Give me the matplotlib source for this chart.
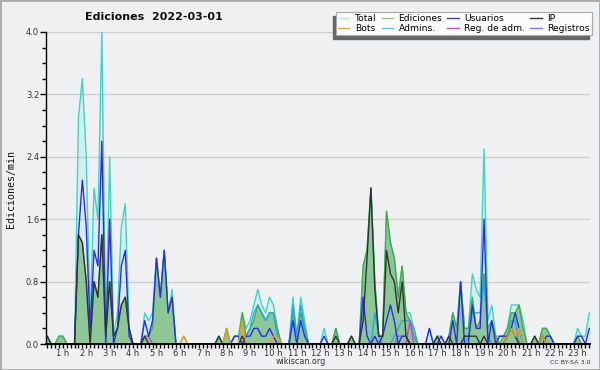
import matplotlib
matplotlib.use('Agg')
import matplotlib.pyplot as plt
from matplotlib.lines import Line2D
from matplotlib.patches import Rectangle
from matplotlib.ticker import MultipleLocator, FixedLocator
import numpy as np

# 10 minute bins, edits per minute
hours = np.arange(144) / 6.0

total = [0, 0, .1, 0, 0, .1, .1, 0, 0, 0, 2.9, 3.4, 2.4, .3, 2.0, 1.6, 4.0, .1, 2.4, .1, .4, 1.5, 1.8, .2,
         0, 0, 0, .4, .3, .4, 1.1, .6, 1.2, .4, .7, 0, 0, .1, 0, 0, 0, 0, 0, 0, 0, 0, .1, 0,
         .2, 0, .1, .1, .4, .2, .3, .5, .7, .5, .4, .6, .5, .2, 0, 0, 0, .6, .1, .6, .3, 0, 0, 0,
         0, .2, 0, 0, .2, 0, 0, 0, .1, 0, 0, 1.0, 1.2, 2.0, .8, .1, .1, 1.7, 1.3, 1.1, .6, 1.0, .4, .4,
         .2, 0, 0, 0, .2, 0, .1, .1, 0, .1, .4, .2, .8, .2, .2, .9, .7, .6, 2.5, .3, .5, .1, .1, .1,
         .2, .5, .5, .5, .3, 0, 0, .1, 0, .2, .2, .1, 0, 0, 0, 0, 0, 0, .2, .1, .1, .4, .4, 0]
edits = [0, 0, .1, 0, 0, .1, .1, 0, 0, 0, 1.4, 1.3, .8, 0, .8, .6, 1.4, .1, .8, .1, .2, .5, .6, .2,
         0, 0, 0, .1, .1, .2, 1.1, .6, 1.2, .4, .6, 0, 0, 0, 0, 0, 0, 0, 0, 0, 0, 0, .1, 0,
         .2, 0, 0, 0, .4, .1, .2, .3, .5, .4, .3, .4, .4, .2, 0, 0, 0, .4, .1, .4, .2, 0, 0, 0,
         0, 0, 0, 0, .2, 0, 0, 0, .1, 0, 0, 1.0, 1.2, 2.0, .8, .1, .1, 1.7, 1.3, 1.1, .6, 1.0, .4, .3,
         .1, 0, 0, 0, 0, 0, .1, 0, 0, .1, .4, .2, .8, .2, .2, .6, .2, .3, .9, .2, .3, .1, 0, .1,
         .2, .4, .4, .5, .2, 0, 0, .1, 0, .2, .2, .1, 0, 0, 0, 0, 0, 0, .1, 0, 0, 0, 0, 0]
users = [0, 0, 0, 0, 0, 0, 0, 0, 0, 0, 1.4, 2.1, 1.5, .2, 1.2, 1.0, 2.6, 0, 1.6, 0, .2, 1.0, 1.2, .1,
         0, 0, 0, .3, .1, .3, 1.1, .6, 1.2, .4, .6, 0, 0, 0, 0, 0, 0, 0, 0, 0, 0, 0, 0, 0,
         0, 0, .1, .1, 0, .1, .1, .2, .2, .1, .1, .2, .1, 0, 0, 0, 0, .3, 0, .3, .1, 0, 0, 0,
         0, .1, 0, 0, 0, 0, 0, 0, 0, 0, 0, .6, .1, 0, .1, 0, .1, .3, .5, .3, 0, .1, .1, 0,
         0, 0, 0, 0, .2, 0, 0, .1, 0, 0, .3, 0, .8, 0, 0, .5, .2, .2, 1.6, 0, .3, 0, .1, .1,
         .1, .2, .4, .2, 0, 0, 0, 0, 0, 0, .1, .1, 0, 0, 0, 0, 0, 0, .1, .1, 0, .2, .2, 0]
ip = [0, 0, .1, 0, 0, 0, 0, 0, 0, 0, 1.4, 1.3, .8, 0, .8, .6, 1.4, .1, .8, .1, .2, .5, .6, .2,
      0, 0, 0, .1, 0, 0, 0, 0, 0, 0, 0, 0, 0, 0, 0, 0, 0, 0, 0, 0, 0, 0, .1, 0,
      0, 0, 0, 0, .1, 0, 0, 0, 0, 0, 0, 0, 0, 0, 0, 0, 0, 0, 0, 0, 0, 0, 0, 0,
      0, 0, 0, 0, .1, 0, 0, 0, .1, 0, 0, .3, 1.1, 2.0, .7, .1, .1, 1.2, .9, .8, .4, .8, .1, 0,
      0, 0, 0, 0, 0, 0, .1, 0, 0, .1, 0, 0, 0, .1, .1, .1, .1, 0, .1, 0, 0, 0, 0, 0,
      .1, .2, .1, 0, 0, 0, 0, .1, 0, .1, 0, 0, 0, 0, 0, 0, 0, 0, 0, 0, 0, 0, 0, 0]
bots = [0] * 37 + [.1] + [0] * 10 + [.2, 0, 0, 0, .3] + [0] * 7 + [.1, .1] + [0] * 58 \
       + [.1, .2, .1, .2] + [0] * 5 + [.1] + [0] * 14
admins = [0] * 50 + [.1, .1, 0, .1, .2, .4, .5, .4, .3, .4, .4, .1, 0, 0, 0, .5, .1, .5, .2] \
         + [0] * 17 + [.4, .1, 0, 0, 0, .1, .2, .3, .3, .3, .2] + [0] * 13 \
         + [.1, .4, .4, .4, .8, .1] + [0] * 4 + [.1, .3, .3] + [0] * 21
regadm = [0] * 27 + [.1, .1] + [0] * 66 + [.3] + [0] * 48
registros = [0] * 92 + [.1, .1, .1] + [0] * 49

hour_ticks = list(range(1, 24))
hour_labels = ['%d h' % h for h in hour_ticks]

bg = '#eef0f2'
fig = plt.figure(figsize=(6, 3.7), dpi=100, facecolor=bg)
ax = fig.add_axes([46 / 600, 1 - 344 / 370, 544 / 600, 312 / 370])
ax.set_facecolor(bg)

ax.fill_between(hours, total, color='#3dd6c8', alpha=0.13, lw=0)
ax.fill_between(hours, edits, color='#50aa50', alpha=0.55, lw=0)
ax.plot(hours, total, color='#3dd6c8', lw=1.0)
ax.plot(hours, edits, color='#44aa44', lw=1.0)
ax.plot(hours, admins, color='#22aadd', lw=1.0)
ax.plot(hours, registros, color='#7b68ee', lw=1.0)
ax.plot(hours, regadm, color='#cc44dd', lw=1.0)
ax.plot(hours, users, color='#2b2bef', lw=1.0)
ax.plot(hours, ip, color='#333333', lw=1.0)
ax.plot(hours, bots, color='#f39c12', lw=1.0)

ax.set_xlim(0.28, 23.53)
ax.set_ylim(0, 4.0)
ax.xaxis.set_major_locator(FixedLocator(hour_ticks))
ax.set_xticklabels(hour_labels)
ax.xaxis.set_minor_locator(MultipleLocator(1 / 6))
ax.yaxis.set_major_locator(MultipleLocator(0.8))
ax.yaxis.set_minor_locator(MultipleLocator(0.2))
ax.set_yticklabels(['%.1f' % v for v in ax.get_yticks()])
ax.yaxis.grid(True, color='#cccccc', lw=0.9)
ax.set_axisbelow(True)
for s in ['top', 'right']:
    ax.spines[s].set_visible(False)
ax.spines['left'].set_linewidth(1.0)
ax.spines['bottom'].set_linewidth(1.4)
ax.spines['left'].set_zorder(5)
ax.spines['bottom'].set_zorder(5)
ax.tick_params(axis='x', which='both', length=3, width=1, direction='out', labelsize=6, pad=0.5,
               labelcolor='#333333')
ax.tick_params(axis='y', which='major', length=4, width=1, labelsize=6, pad=1, labelcolor='#333333')
ax.tick_params(axis='y', which='minor', length=3, width=1)

fig.text(0.256, 0.954, 'Ediciones  2022-03-01', ha='center', va='center', fontsize=8, fontweight='bold',
         color='#111111')
fig.text(0.018, 0.489, 'Ediciones/min', rotation=90, ha='center', va='center', fontsize=7.2,
         family='DejaVu Sans Mono', color='#111111')
fig.text(0.502, 0.022, 'wikiscan.org', ha='center', va='center', fontsize=5.8, color='#333333')
fig.text(0.95, 0.020, 'CC BY-SA 3.0', ha='center', va='center', fontsize=4.6, color='#333333')

names = ['Total', 'Bots', 'Ediciones', 'Admins.', 'Usuarios', 'Reg. de adm.', 'IP', 'Registros']
lcolors = ['#aee8e2', '#f5a030', '#88cc88', '#50c8e0', '#3b3be8', '#cc44dd', '#333333', '#7878f0']
handles = [Line2D([], [], color=c, lw=1.0) for c in lcolors]
leg = fig.legend(handles, names, ncol=4, loc='upper right', bbox_to_anchor=(592 / 600, 1 - 12 / 370),
                 frameon=True, fancybox=False, edgecolor='#aaaaaa', facecolor='#fbfbfb', framealpha=1,
                 fontsize=6.6, handlelength=1.25, handletextpad=0.6, columnspacing=0.55,
                 labelspacing=0.08, borderpad=0.25, borderaxespad=0)
leg.get_frame().set_linewidth(0.8)
leg.set_zorder(6)

fig.canvas.draw()
bb = leg.get_window_extent().transformed(fig.transFigure.inverted())
fig.patches.append(Rectangle((bb.x0 - 3 / 600, bb.y0 - 4 / 370), bb.width, bb.height,
                             transform=fig.transFigure, color='#666666', zorder=5))
fig.patches.append(Rectangle((0, 0), 1, 1, transform=fig.transFigure, fill=False,
                             edgecolor='#aaaaaa', lw=2))

fig.savefig('out.png', dpi=100, facecolor=bg)
